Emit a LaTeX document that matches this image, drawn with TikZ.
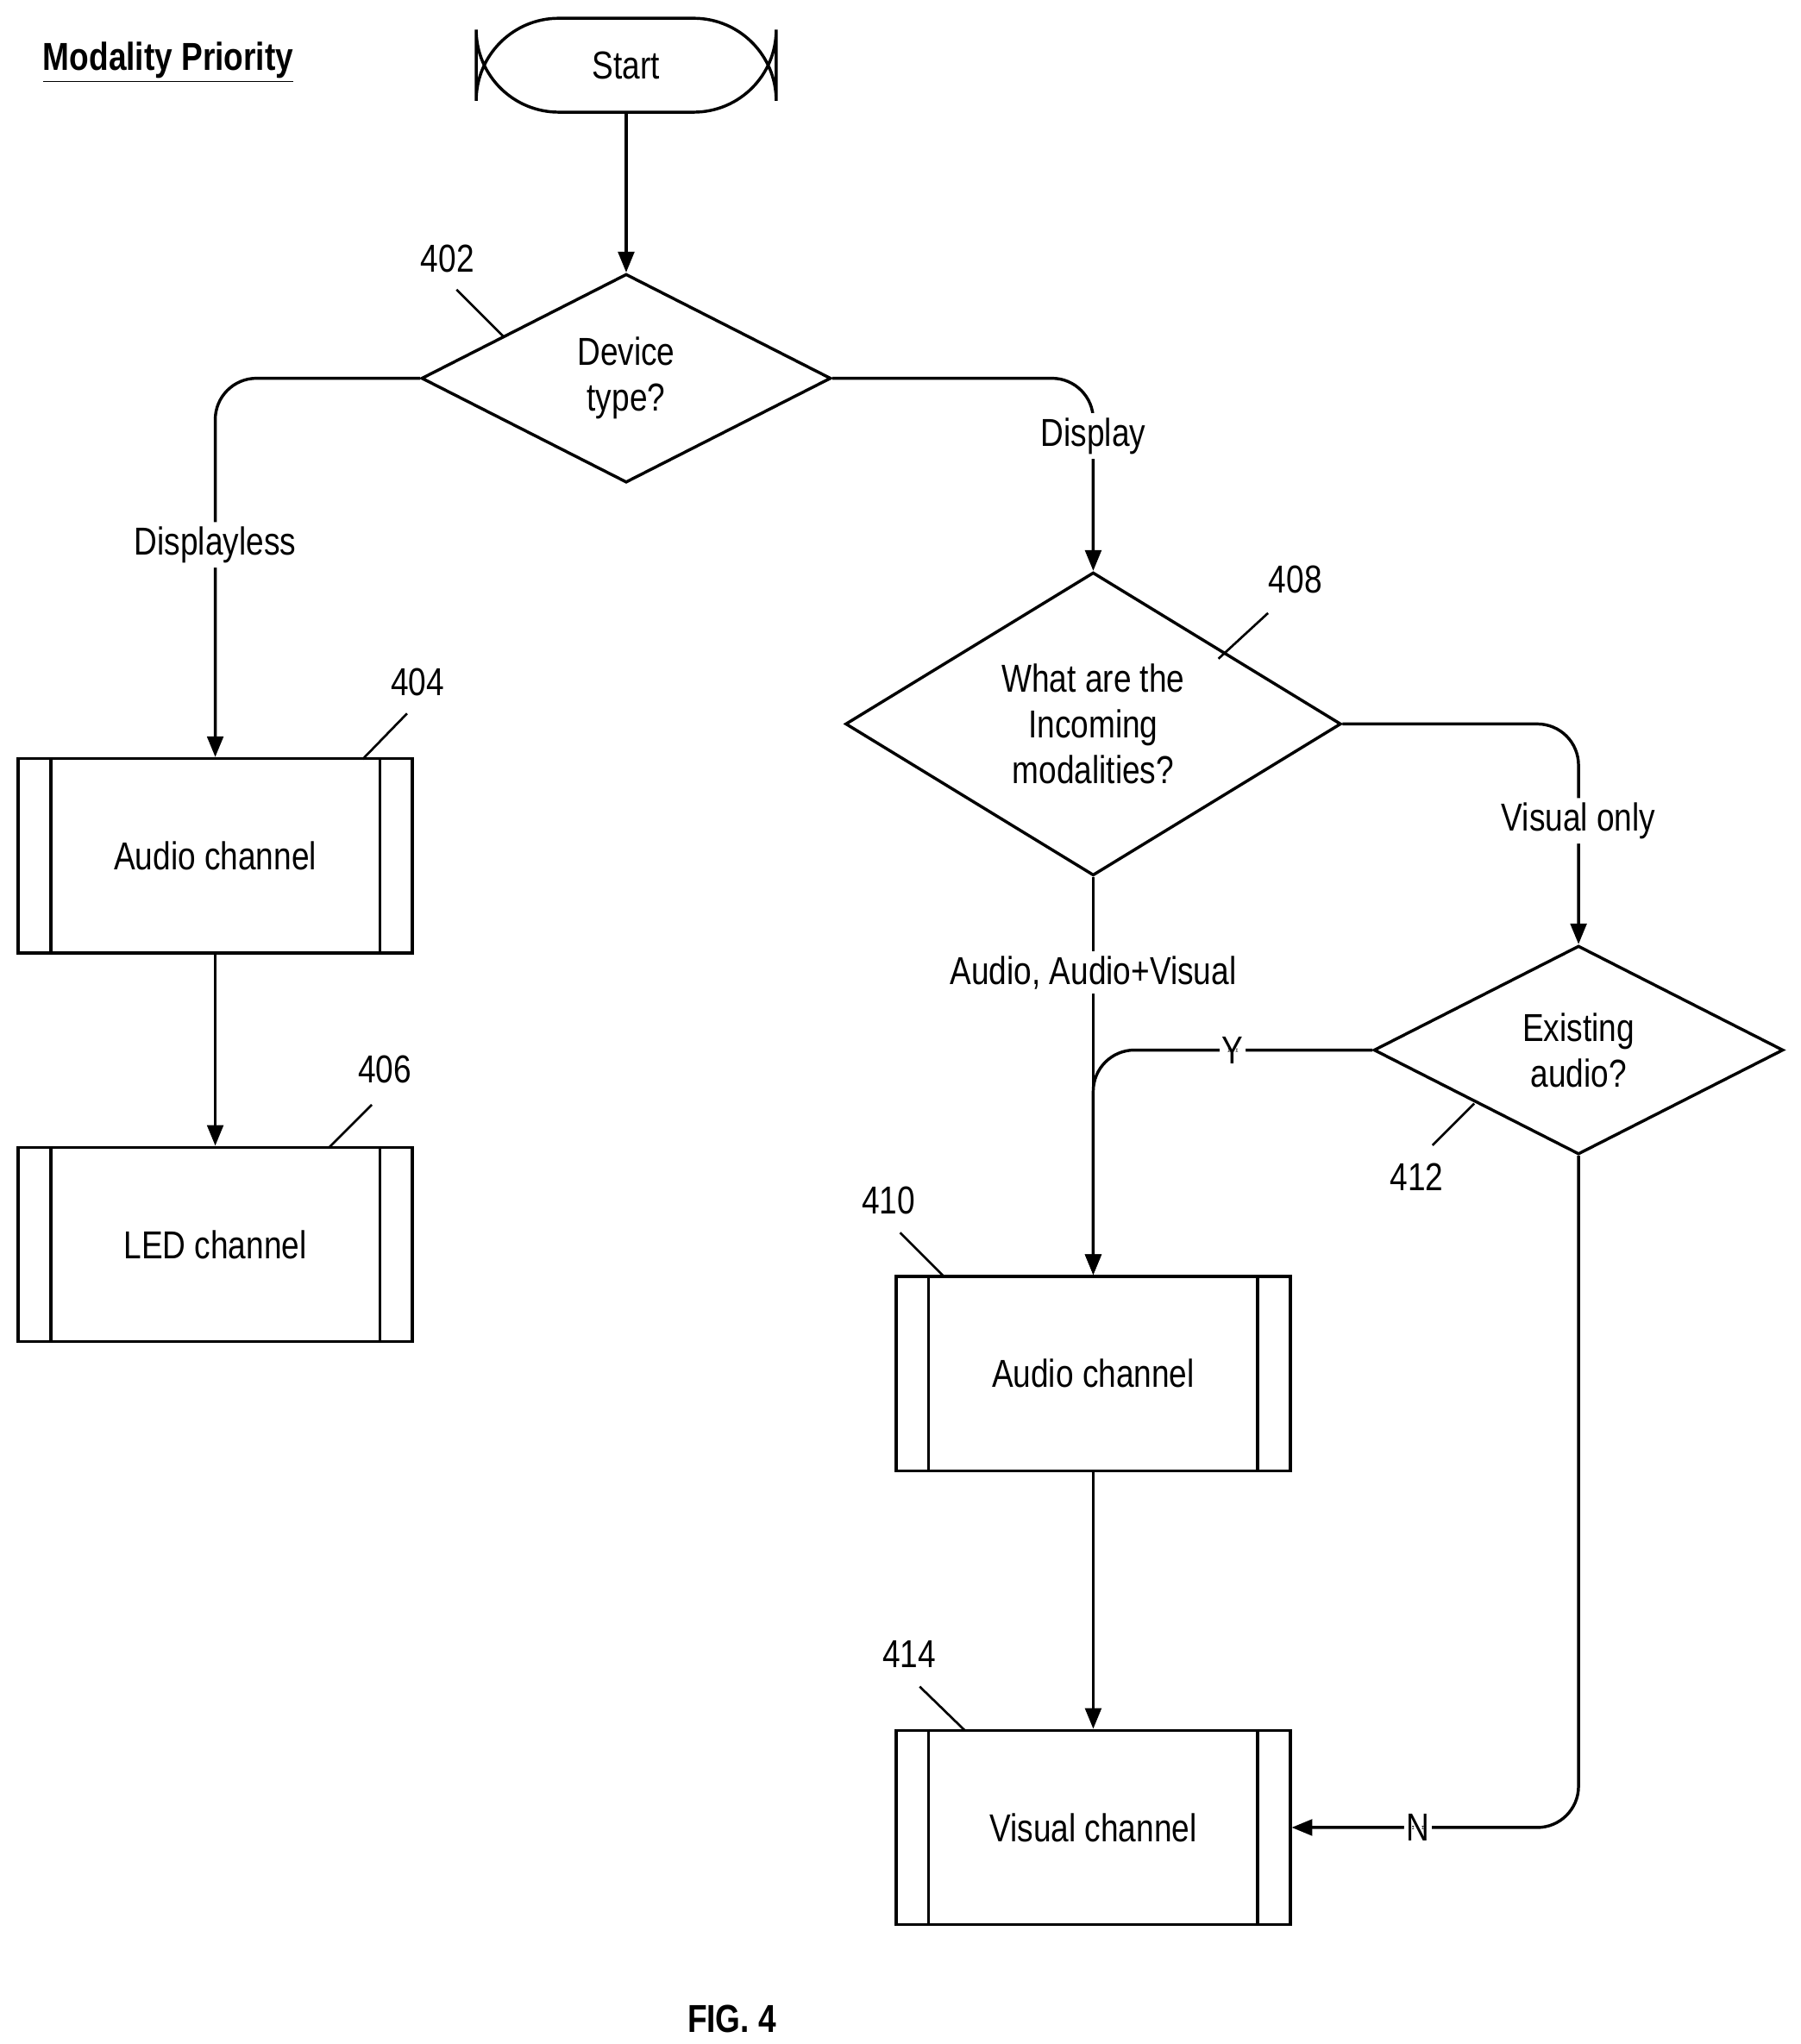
\documentclass[tikz,border=0pt]{standalone}
\usepackage{fontspec}
\setmainfont{Liberation Sans}[FakeStretch=0.82]
\usetikzlibrary{shapes.geometric,arrows.meta}
\begin{document}
\begin{tikzpicture}[x=0.02cm,y=-0.02cm,font=\fontsize{17}{20}\selectfont,
  line width=1.3pt, >={Triangle[length=9pt,width=7pt]},
  dia/.style={diamond,draw,inner sep=0pt},
  box/.style={draw,minimum width=6.04cm,minimum height=2.98cm,inner sep=0pt},
  lbl/.style={fill=white,inner sep=2pt},
  ref/.style={inner sep=1pt},
  lead/.style={line width=1pt},
  rc/.style={rounded corners=18pt}]
\useasboundingbox (0,0) rectangle (1380,1567);
\node[anchor=west,font=\fontsize{17}{20}\selectfont\bfseries] (title) at (26,48) {\underline{Modality Priority}};
\node[draw,rounded corners=36pt,minimum width=4.6cm,minimum height=1.44cm] (start) at (480,50) {Start};
\node[dia,minimum width=6.28cm,minimum height=3.2cm,align=center] (d402) at (480,290) {Device\\type?};
\node[box] (b404) at (165,656) {Audio channel};
\node[box] (b406) at (165,954) {LED channel};
\node[dia,minimum width=7.6cm,minimum height=3.88cm,align=center] (d408) at (838,555) {What are the\\Incoming\\modalities?};
\node[dia,minimum width=6.28cm,minimum height=3.2cm,align=center] (d412) at (1210,805) {Existing\\audio?};
\node[box] (b410) at (838,1053) {Audio channel};
\node[box] (b414) at (838,1401) {Visual channel};
\foreach \b in {b404,b406,b410,b414}{
  \draw ([xshift=0.52cm]\b.north west) -- ([xshift=0.52cm]\b.south west);
  \draw ([xshift=-0.52cm]\b.north east) -- ([xshift=-0.52cm]\b.south east);}
\draw[->] (start) -- (d402);
\draw[->,rc] (d402.west) -| node[lbl,pos=0.72]{Displayless} (b404.north);
\draw[->,rc] (d402.east) -| node[lbl,pos=0.65]{Display} (d408.north);
\draw[->,rc] (d408.east) -| node[lbl,pos=0.72]{Visual only} (d412.north);
\draw[->] (d408.south) -- node[lbl,pos=0.24]{Audio, Audio+Visual} (b410.north);
\draw[->,rc] (d412.west) -- node[lbl,inner sep=1pt]{Y} (838,805) -- (b410.north);
\draw[->,rc] (d412.south) |- node[lbl,pos=0.78,inner sep=1pt]{N} (b414.east);
\draw[->] (b404) -- (b406);
\draw[->] (b410) -- (b414);
\node[ref] (r402) at (343,198) {402}; \coordinate (c402) at (386,258); \draw[lead] (c402) -- (350,222);
\node[ref] (r404) at (320,523) {404}; \coordinate (c404) at (278,582); \draw[lead] (c404) -- (312,547);
\node[ref] (r406) at (295,820) {406}; \coordinate (c406) at (252,880); \draw[lead] (c406) -- (285,847);
\node[ref] (r408) at (993,444) {408}; \coordinate (c408) at (934,505); \draw[lead] (c408) -- (972,470);
\node[ref] (r410) at (681,920) {410}; \coordinate (c410) at (724,979); \draw[lead] (c410) -- (690,945);
\node[ref] (r412) at (1086,902) {412}; \coordinate (c412) at (1130,846); \draw[lead] (c412) -- (1098,878);
\node[ref] (r414) at (697,1268) {414}; \coordinate (c414) at (740,1327); \draw[lead] (c414) -- (705,1293);
\node[font=\fontsize{17}{20}\selectfont\bfseries] (fig) at (561,1548) {FIG. 4};
\end{tikzpicture}
\end{document}
